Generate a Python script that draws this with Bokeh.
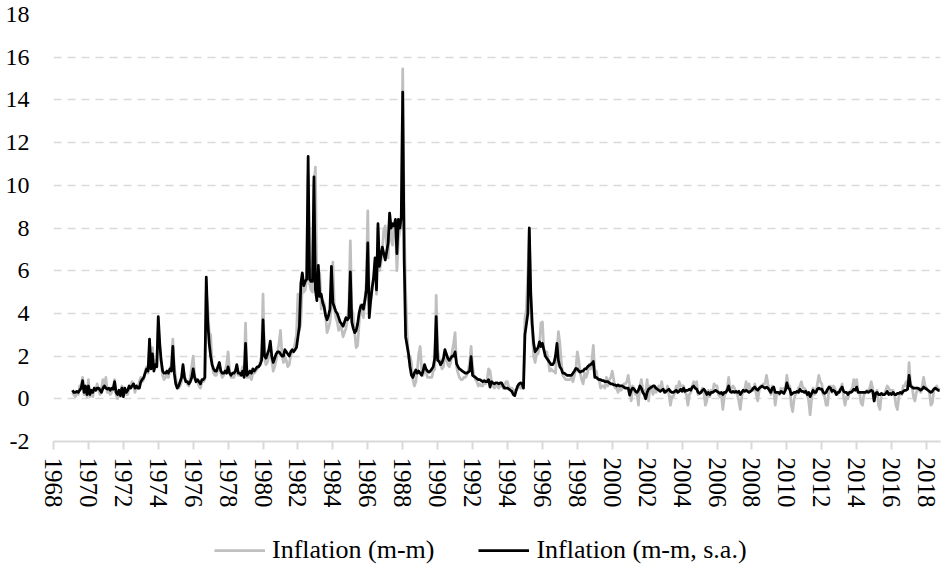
import pandas as pd
from bokeh.plotting import figure
from bokeh.layouts import column
from bokeh.models import Range1d, FixedTicker, Legend, LegendItem, ColumnDataSource
from bokeh.embed import file_html
from bokeh.resources import INLINE

first_month = "1969-02"
last_month = "2018-10"

series_nsa_name = "Inflation (m-m)"
series_sa_name = "Inflation (m-m, s.a.)"

tick_years = [1968, 1970, 1972, 1974, 1976, 1978, 1980, 1982, 1984, 1986, 1988, 1990,
              1992, 1994, 1996, 1998, 2000, 2002, 2004, 2006, 2008, 2010, 2012, 2014,
              2016, 2018]
tick_year_labels = ["1968", "1970", "1972", "1974", "1976", "1978", "1980", "1982", "1984",
                    "1986", "1988", "1990", "1992", "1994", "1996", "1998", "2000", "2002",
                    "2004", "2006", "2008", "2010", "2012", "2014", "2016", "2018"]
y_ticks = [-2, 0, 2, 4, 6, 8, 10, 12, 14, 16, 18]
y_tick_labels = ["-2", "0", "2", "4", "6", "8", "10", "12", "14", "16", "18"]

# Seasonally adjusted monthly inflation (black line), Feb 1969 - Oct 2018
sa_1960s = [0.4, 0.3, 0.3, 0.35, 0.3, 0.4, 0.5, 0.85, 0.3, 0.6, 0.2]
sa_1970s = [
    0.6, 0.2, 0.4, 0.3, 0.5, 0.4, 0.5, 0.5, 0.4, 0.3, 0.5, 0.6,
    0.5, 0.45, 0.5, 0.4, 0.5, 0.45, 0.8, 0.3, 0.2, 0.4, 0.15, 0.5,
    0.1, 0.5, 0.3, 0.4, 0.6, 0.5, 0.6, 0.7, 0.5, 0.6, 0.5, 0.5,
    0.8, 0.9, 1.0, 1.2, 1.4, 1.3, 2.8, 1.4, 2.1, 1.3, 1.6, 1.5,
    3.85, 2.6, 1.8, 1.3, 1.2, 1.2, 1.3, 1.2, 1.4, 1.3, 2.45, 1.2,
    0.7, 0.5, 0.6, 0.8, 1.0, 1.6, 1.0, 0.8, 0.8, 0.7, 0.8, 1.0,
    1.4, 1.0, 0.8, 0.9, 0.8, 0.7, 0.9, 0.9, 1.0, 5.7, 3.6, 2.6,
    2.0, 1.6, 1.4, 1.3, 1.3, 1.5, 1.7, 1.3, 1.2, 1.2, 1.3, 1.2,
    1.5, 1.2, 1.1, 1.2, 1.2, 1.3, 1.6, 1.2, 1.2, 1.1, 1.3, 1.0,
    2.6, 1.1, 1.2, 1.3, 1.2, 1.4, 1.3, 1.4, 1.5, 1.5, 1.6, 1.8,
]
sa_1980s = [
    3.7, 2.0, 1.9, 2.1, 2.3, 2.7, 2.0, 1.7, 1.9, 2.1, 2.2, 2.2,
    2.1, 2.0, 2.0, 2.3, 2.2, 2.1, 2.0, 2.2, 2.3, 2.2, 2.3, 2.4,
    2.9, 3.4, 5.4, 5.9, 5.3, 5.5, 5.6, 11.35, 5.6, 5.5, 5.5, 10.4,
    5.1, 4.6, 6.25, 4.8, 4.9, 4.5, 4.3, 3.9, 3.7, 3.9, 4.2, 6.2,
    4.5, 4.3, 4.1, 4.0, 3.8, 3.6, 3.5, 3.4, 3.6, 3.8, 3.7, 3.8,
    5.95, 3.6, 3.3, 3.1, 3.2, 3.5, 4.0, 4.3, 4.4, 4.2, 4.6, 5.1,
    7.3, 3.8, 4.6, 5.2, 5.7, 6.6, 5.1, 8.2, 6.2, 6.7, 7.1, 6.8,
    6.5, 6.9, 7.3, 8.7, 8.0, 8.2, 8.1, 8.4, 6.8, 8.4, 8.0, 8.5,
    14.37, 6.5, 2.9, 2.5, 2.1, 1.5, 1.1, 1.0, 1.2, 1.35, 1.2, 1.3,
    1.2, 1.1, 1.3, 1.6, 1.4, 1.3, 1.25, 1.3, 1.4, 1.5, 1.9, 3.85,
]
sa_1990s = [
    1.8, 1.75, 1.6, 1.7, 1.9, 2.3, 2.1, 1.9, 1.8, 1.9, 2.0, 2.0,
    2.2, 1.65, 1.5, 1.4, 1.35, 1.3, 1.25, 1.2, 1.2, 1.25, 1.3, 1.97,
    1.1, 1.05, 1.0, 0.95, 0.9, 0.9, 0.85, 0.8, 0.85, 0.8, 0.8, 0.9,
    0.55, 0.8, 0.75, 0.7, 0.75, 0.75, 0.7, 0.75, 0.75, 0.6, 0.5, 0.5,
    0.5, 0.45, 0.4, 0.35, 0.2, 0.15, 0.4, 0.6, 0.7, 0.75, 0.7, 0.5,
    3.0, 3.5, 4.0, 8.0, 5.0, 3.5, 2.6, 2.2, 2.3, 2.4, 2.67, 2.45,
    2.6, 2.3, 2.0, 1.9, 1.8, 1.7, 1.6, 1.6, 1.7, 2.0, 2.6, 1.8,
    1.5, 1.4, 1.2, 1.2, 1.15, 1.1, 1.1, 1.1, 1.1, 1.2, 1.3, 1.42,
    1.4, 1.3, 1.25, 1.3, 1.3, 1.4, 1.4, 1.5, 1.55, 1.6, 1.65, 1.75,
    1.0, 1.0, 0.95, 0.9, 0.9, 0.85, 0.85, 0.8, 0.8, 0.8, 0.75, 0.7,
]
sa_2000s = [
    0.7, 0.65, 0.65, 0.6, 0.65, 0.6, 0.6, 0.6, 0.55, 0.5, 0.5, 0.5,
    0.17, 0.4, 0.5, 0.45, 0.35, 0.3, 0.4, 0.6, 0.5, 0.3, 0.2, 0.0,
    0.3, 0.45, 0.5, 0.55, 0.6, 0.6, 0.5, 0.45, 0.4, 0.35, 0.4, 0.45,
    0.3, 0.35, 0.4, 0.45, 0.35, 0.3, 0.3, 0.35, 0.4, 0.3, 0.35, 0.45,
    0.35, 0.5, 0.35, 0.4, 0.4, 0.45, 0.4, 0.55, 0.6, 0.5, 0.45, 0.3,
    0.25, 0.3, 0.4, 0.45, 0.35, 0.2, 0.3, 0.2, 0.3, 0.3, 0.35, 0.4,
    0.35, 0.3, 0.25, 0.3, 0.2, 0.3, 0.3, 0.4, 0.6, 0.35, 0.3, 0.35,
    0.3, 0.35, 0.3, 0.35, 0.2, 0.3, 0.4, 0.35, 0.4, 0.35, 0.3, 0.35,
    0.4, 0.5, 0.55, 0.45, 0.4, 0.5, 0.55, 0.6, 0.55, 0.5, 0.55, 0.5,
    0.4, 0.3, 0.5, 0.55, 0.3, 0.3, 0.3, 0.25, 0.35, 0.3, 0.25, 0.4,
]
sa_2010s = [
    0.75, 0.5, 0.45, 0.2, 0.25, 0.3, 0.3, 0.35, 0.3, 0.45, 0.35, 0.35,
    0.3, 0.35, 0.2, 0.3, 0.1, 0.25, 0.4, 0.3, 0.3, 0.45, 0.5, 0.45,
    0.45, 0.3, 0.25, 0.3, 0.45, 0.55, 0.5, 0.35, 0.4, 0.35, 0.2, 0.3,
    0.3, 0.45, 0.55, 0.35, 0.3, 0.3, 0.2, 0.3, 0.3, 0.35, 0.45, 0.4,
    0.55, 0.3, 0.3, 0.3, 0.3, 0.3, 0.3, 0.35, 0.3, 0.35, 0.4, 0.35,
    -0.1, 0.25, 0.3, 0.2, 0.2, 0.25, 0.2, 0.2, 0.25, 0.35, 0.2, 0.25,
    0.2, 0.3, 0.2, 0.2, 0.25, 0.25, 0.3, 0.25, 0.35, 0.4, 0.4, 0.45,
    1.1, 0.6, 0.55, 0.5, 0.5, 0.5, 0.5, 0.45, 0.4, 0.45, 0.55, 0.5,
    0.45, 0.4, 0.35, 0.3, 0.35, 0.45, 0.5, 0.45, 0.4, 0.4,
]

# Non-adjusted monthly inflation (grey line), Feb 1969 - Oct 2018
nsa_1960s = [0.3, 0.2, 0.1, 0.3, 0.2, 0.6, 0.6, 1.0, 0.2, 0.4, 0.1]
nsa_1970s = [
    0.9, 0.1, 0.3, 0.1, 0.5, 0.4, 0.7, 0.4, 0.2, 0.5, 0.9, 0.6,
    1.0, 0.3, 0.4, 0.2, 0.3, 0.5, 0.9, 0.2, 0.0, 0.3, 0.1, 0.6,
    0.5, 0.3, 0.2, 0.2, 0.5, 0.6, 0.8, 0.7, 0.3, 0.6, 0.5, 0.8,
    1.0, 0.8, 0.9, 1.3, 1.5, 1.2, 2.4, 1.5, 2.4, 1.4, 1.8, 1.6,
    3.5, 2.3, 1.7, 1.1, 0.9, 1.0, 1.2, 1.0, 1.4, 1.6, 2.8, 1.5,
    1.0, 0.6, 0.5, 0.6, 0.8, 1.5, 1.1, 0.8, 0.7, 0.6, 1.0, 1.5,
    2.0, 1.1, 0.8, 0.8, 0.6, 0.5, 0.8, 0.8, 0.9, 5.0, 4.3, 3.1,
    3.0, 1.6, 1.2, 1.1, 1.1, 1.4, 1.5, 1.2, 1.0, 1.1, 1.3, 1.6,
    2.2, 1.3, 1.0, 1.0, 1.0, 1.2, 1.4, 1.1, 1.1, 1.2, 1.5, 1.4,
    3.55, 1.0, 1.0, 1.1, 0.9, 1.2, 1.2, 1.3, 1.4, 1.5, 1.7, 2.1,
]
nsa_1980s = [
    4.9, 1.9, 1.6, 1.7, 2.0, 2.5, 1.8, 1.3, 1.5, 1.8, 2.2, 2.6,
    3.2, 2.1, 1.7, 2.0, 1.8, 1.5, 1.6, 2.0, 2.2, 2.3, 2.6, 3.0,
    4.9, 3.2, 3.6, 5.4, 5.0, 5.1, 5.6, 10.5, 5.4, 5.1, 5.0, 10.0,
    10.85, 5.4, 4.8, 5.9, 4.2, 4.6, 4.5, 3.9, 3.1, 3.3, 3.6, 4.3,
    6.4, 4.3, 3.8, 3.6, 3.2, 3.4, 3.3, 2.9, 3.1, 3.3, 3.7, 4.4,
    7.4, 4.2, 3.9, 3.1, 2.4, 2.5, 3.5, 4.4, 4.0, 3.8, 4.6, 5.5,
    8.8, 4.4, 4.6, 5.2, 5.6, 6.4, 4.9, 8.0, 6.0, 6.3, 7.0, 7.9,
    8.1, 7.2, 6.6, 8.7, 7.5, 7.2, 8.1, 8.0, 6.0, 7.4, 7.9, 8.0,
    15.45, 8.3, 5.1, 3.1, 1.9, 2.0, 1.7, 0.9, 0.6, 0.8, 1.3, 2.1,
    2.45, 1.4, 1.1, 1.4, 1.3, 1.0, 1.0, 1.0, 1.0, 1.3, 1.4, 4.85,
]
nsa_1990s = [
    2.3, 1.9, 1.6, 1.4, 1.5, 2.1, 1.9, 1.6, 1.5, 1.7, 2.2, 2.6,
    3.1, 1.5, 1.2, 1.0, 0.9, 0.9, 1.0, 1.0, 1.1, 1.3, 1.7, 2.45,
    1.5, 1.1, 0.9, 0.8, 0.6, 0.7, 0.6, 0.6, 0.8, 0.7, 0.9, 1.4,
    1.3, 0.8, 0.6, 0.5, 0.6, 0.6, 0.5, 0.6, 0.7, 0.5, 0.6, 0.8,
    0.8, 0.5, 0.5, 0.5, 0.4, 0.4, 0.4, 0.5, 0.7, 0.5, 0.5, 0.9,
    3.8, 4.2, 5.9, 8.0, 4.2, 3.2, 2.0, 1.7, 2.1, 2.1, 2.5, 3.55,
    3.6, 2.3, 2.2, 2.2, 1.8, 1.3, 1.4, 1.3, 1.3, 1.2, 2.2, 3.15,
    2.6, 1.7, 1.1, 1.0, 0.9, 0.9, 0.9, 0.9, 1.0, 0.8, 1.1, 1.4,
    2.2, 1.8, 1.2, 0.9, 0.7, 1.2, 1.0, 1.2, 1.6, 1.4, 1.8, 2.5,
    1.3, 1.3, 0.9, 0.9, 0.5, 0.6, 0.6, 0.5, 1.0, 0.6, 0.9, 1.0,
]
nsa_2000s = [
    1.3, 0.9, 0.5, 0.5, 0.3, 0.6, 0.4, 0.5, 0.7, 0.7, 0.8, 1.1,
    0.6, -0.1, 0.6, 0.5, 0.2, 0.3, -0.3, 0.6, 0.9, 0.4, 0.4, 0.2,
    0.9, -0.1, 0.6, 0.5, 0.2, 0.5, 0.3, 0.4, 0.6, 0.4, 0.8, 0.4,
    0.4, 0.3, 0.6, 0.2, -0.3, 0.1, 0.1, 0.3, 0.6, 0.4, 0.8, 0.6,
    0.6, 0.6, 0.3, 0.2, -0.3, 0.2, 0.3, 0.6, 0.8, 0.7, 0.8, 0.2,
    0.3, 0.3, 0.5, 0.3, -0.3, -0.1, 0.4, 0.1, 0.4, 0.3, 0.7, 0.6,
    0.6, 0.2, 0.1, 0.2, -0.5, 0.1, 0.3, 0.5, 1.0, 0.4, 0.5, 0.6,
    0.5, 0.3, 0.2, -0.1, -0.5, 0.1, 0.4, 0.4, 0.8, 0.4, 0.7, 0.4,
    0.5, 0.4, 0.7, 0.2, -0.1, 0.4, 0.6, 0.6, 0.7, 0.7, 1.1, 0.7,
    0.4, 0.2, 0.6, 0.4, -0.3, 0.2, 0.3, 0.2, 0.5, 0.3, 0.5, 0.4,
]
nsa_2010s = [
    1.1, 0.6, 0.6, -0.3, -0.6, 0.0, 0.2, 0.3, 0.5, 0.6, 0.8, 0.5,
    0.5, 0.4, 0.2, -0.1, -0.75, 0.0, 0.5, 0.2, 0.3, 0.7, 1.1, 0.8,
    0.7, 0.2, 0.1, -0.3, -0.3, 0.5, 0.6, 0.3, 0.6, 0.5, 0.2, 0.2,
    0.4, 0.5, 0.7, 0.1, -0.3, 0.1, 0.0, 0.3, 0.4, 0.5, 0.9, 0.6,
    0.9, 0.3, 0.3, -0.2, -0.3, 0.2, 0.3, 0.4, 0.4, 0.5, 0.8, 0.5,
    -0.1, 0.2, 0.4, -0.3, -0.5, 0.2, 0.2, 0.2, 0.4, 0.6, 0.5, 0.4,
    0.4, 0.4, 0.2, -0.3, -0.5, 0.1, 0.3, 0.2, 0.6, 0.6, 0.8, 0.5,
    1.7, 0.6, 0.6, 0.1, -0.1, 0.3, 0.4, 0.5, 0.3, 0.6, 1.0, 0.6,
    0.5, 0.4, 0.3, -0.3, -0.2, 0.4, 0.5, 0.6, 0.4, 0.5,
]

sa = sa_1960s + sa_1970s + sa_1980s + sa_1990s + sa_2000s + sa_2010s
nsa = nsa_1960s + nsa_1970s + nsa_1980s + nsa_1990s + nsa_2000s + nsa_2010s

months = pd.period_range(first_month, last_month, freq="M")
n = min(len(months), len(sa), len(nsa))
t = [m.year + (m.month - 1) / 12.0 for m in months[:n]]

src = ColumnDataSource(data=dict(t=t, sa=sa[:n], nsa=nsa[:n]))

serif = "Liberation Serif, DejaVu Serif, serif"
grey = "#bfbfbf"
grid_grey = "#d9d9d9"

p = figure(width=941, height=527, output_backend="svg", toolbar_location=None,
           x_range=Range1d(1968, 2018.8), y_range=Range1d(-2, 18),
           min_border_left=53, min_border_right=1, min_border_top=14,
           min_border_bottom=86)
p.outline_line_color = None
p.background_fill_color = "white"
p.border_fill_color = "white"

# y axis
p.yaxis.ticker = FixedTicker(ticks=y_ticks)
p.yaxis.major_label_overrides = {v: s for v, s in zip(y_ticks, y_tick_labels)}
p.yaxis.axis_line_color = None
p.yaxis.major_tick_line_color = None
p.yaxis.minor_tick_line_color = None
p.yaxis.major_tick_out = 0
p.yaxis.major_tick_in = 0
p.yaxis.major_label_standoff = 24
p.yaxis.major_label_text_font = serif
p.yaxis.major_label_text_font_size = "24px"
p.yaxis.major_label_text_color = "black"

# x axis
p.xaxis.ticker = FixedTicker(ticks=tick_years)
p.xaxis.major_label_overrides = {v: s for v, s in zip(tick_years, tick_year_labels)}
p.xaxis.major_label_orientation = "vertical"
p.xaxis.axis_line_color = grid_grey
p.xaxis.axis_line_width = 2
p.xaxis.major_tick_line_color = grid_grey
p.xaxis.major_tick_line_width = 2
p.xaxis.major_tick_out = 8
p.xaxis.major_tick_in = 0
p.xaxis.minor_tick_line_color = None
p.xaxis.major_label_standoff = 8
p.xaxis.major_label_text_font = serif
p.xaxis.major_label_text_font_size = "25px"
p.xaxis.major_label_text_color = "black"

# grid
p.xgrid.grid_line_color = None
p.ygrid.ticker = FixedTicker(ticks=y_ticks)
p.ygrid.grid_line_color = grid_grey
p.ygrid.grid_line_width = 1.5
p.ygrid.grid_line_dash = "8 6"

p.line("t", "nsa", source=src, line_color=grey, line_width=2.75, line_join="round")
p.line("t", "sa", source=src, line_color="black", line_width=2.75, line_join="round")

# legend strip below the chart (series drawn out of its view, only legend shows)
leg = figure(width=941, height=40, output_backend="svg", toolbar_location=None,
             x_axis_type=None, y_axis_type=None,
             x_range=Range1d(1968, 2018.8), y_range=Range1d(100, 101),
             min_border_left=53, min_border_right=1, min_border_top=0,
             min_border_bottom=0)
leg.outline_line_color = None
leg.xgrid.grid_line_color = None
leg.ygrid.grid_line_color = None
leg.background_fill_color = "white"
leg.border_fill_color = "white"
l_nsa = leg.line("t", "nsa", source=src, line_color=grey, line_width=2.75)
l_sa = leg.line("t", "sa", source=src, line_color="black", line_width=2.75)

legend = Legend(items=[LegendItem(label=series_nsa_name, renderers=[l_nsa]),
                       LegendItem(label=series_sa_name, renderers=[l_sa])],
                orientation="horizontal", location=(161, 2),
                padding=0, margin=0, spacing=44, glyph_width=51, glyph_height=26,
                label_standoff=7, label_height=26,
                label_text_font=serif, label_text_font_size="26px",
                label_text_color="black",
                border_line_color=None, background_fill_alpha=0)
leg.add_layout(legend)

layout = column(p, leg, spacing=0)
open("out.html", "w").write(file_html(layout, INLINE))
